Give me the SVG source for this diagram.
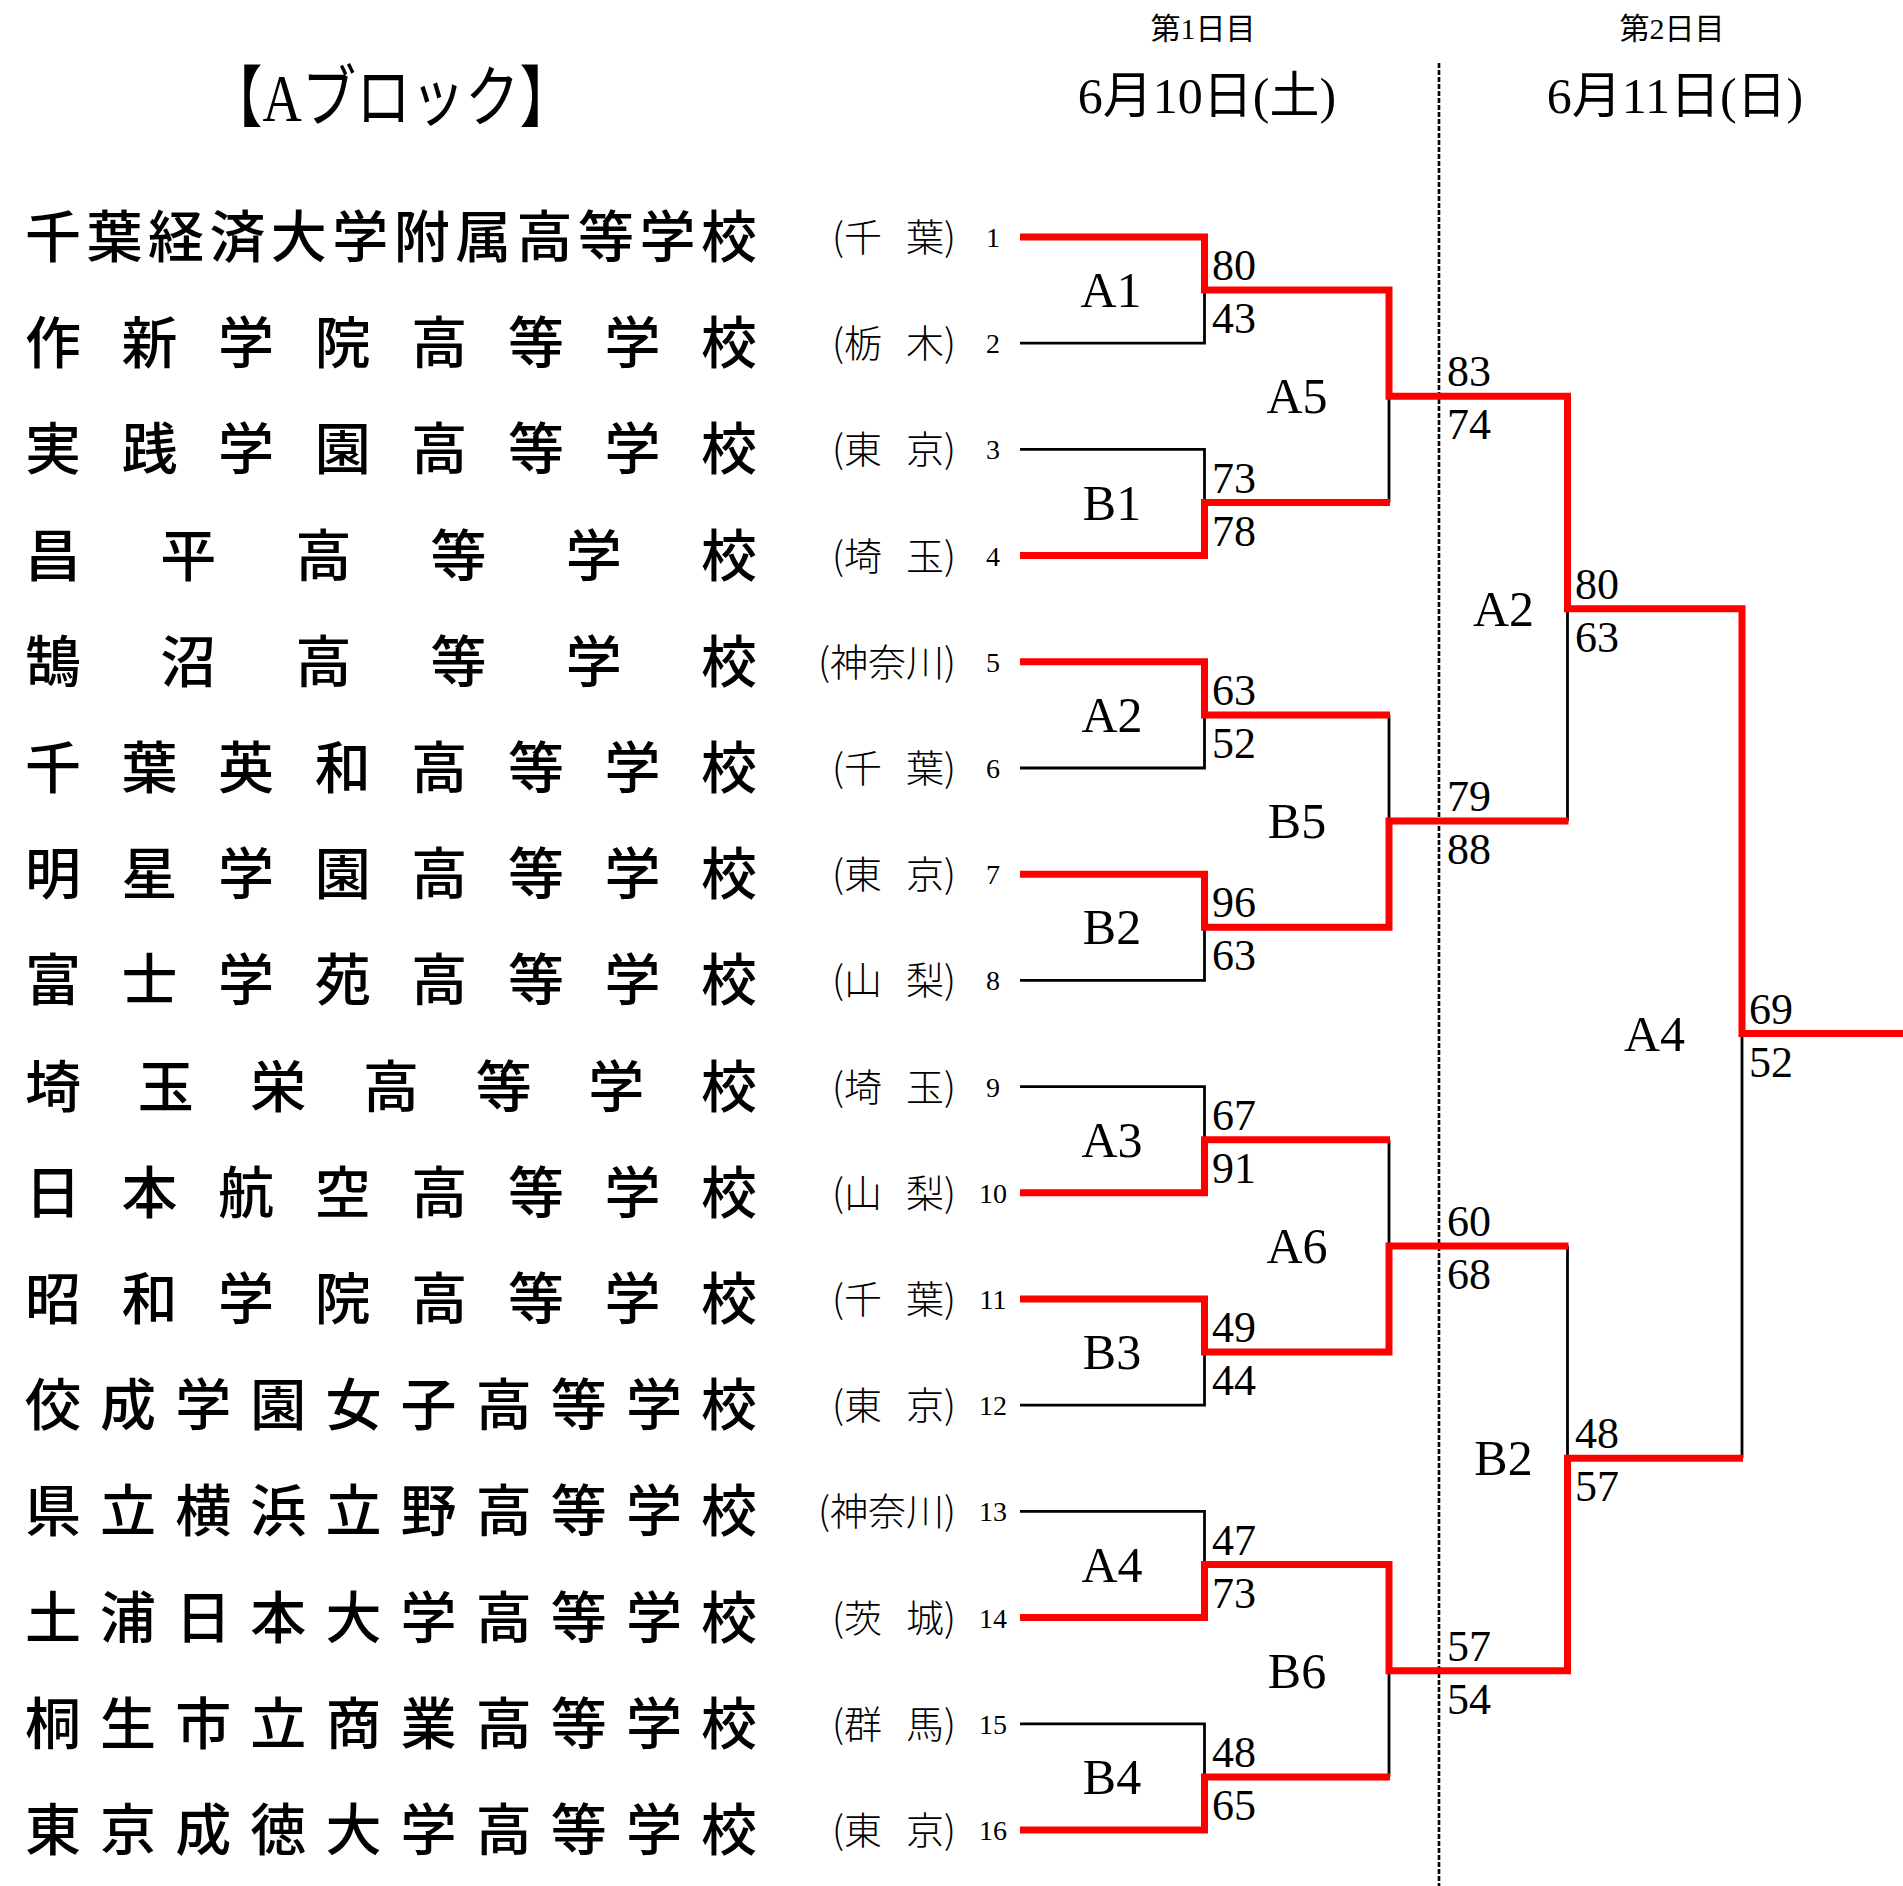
<svg xmlns="http://www.w3.org/2000/svg" width="1903" height="1886" viewBox="0 0 1903 1886">
<style>
.bg{fill:#ffffff}
.name{font-family:"Noto Sans CJK JP","Noto Sans CJK SC",sans-serif;font-size:56px;font-weight:500;fill:#000}
.pref{font-family:"Noto Sans CJK JP","Noto Sans CJK SC",sans-serif;font-size:38px;font-weight:300;fill:#000;text-anchor:end}
.seed{font-family:"Liberation Serif",serif;font-size:28px;fill:#000;text-anchor:middle}
.score{font-family:"Liberation Serif",serif;font-size:44px;fill:#000}
.mlabel{font-family:"Liberation Serif",serif;font-size:50px;fill:#000;text-anchor:middle}
.day{font-family:"Liberation Serif","Noto Sans CJK JP",serif;font-size:30px;fill:#000;text-anchor:middle}
.date{font-family:"Liberation Serif","Noto Sans CJK JP",serif;font-size:50px;fill:#000;text-anchor:middle}
.title{font-family:"Liberation Serif","Noto Sans CJK JP",serif;font-size:67px;fill:#000}
.lose{fill:none;stroke:#000;stroke-width:2.8;stroke-linejoin:miter}
.win{fill:none;stroke:#ff0000;stroke-width:7;stroke-linejoin:miter}
.divider{fill:none;stroke:#000;stroke-width:2.6;stroke-dasharray:5 2}
</style>
<rect class="bg" x="0" y="0" width="1903" height="1886"/>

<g id="header">
<text class="title" x="208" y="121" textLength="366" lengthAdjust="spacingAndGlyphs">【Aブロック】</text>
<text class="day" x="1203" y="39">第1日目</text>
<text class="date" x="1207" y="113">6月10日(土)</text>
<text class="day" x="1672" y="39">第2日目</text>
<text class="date" x="1675" y="113">6月11日(日)</text>
<line class="divider" x1="1439" y1="63" x2="1439" y2="1886"/>
</g>

<g id="team-01"><text class="name" y="257" x="25 86.45 147.9 209.4 270.8 332.3 393.7 455.2 516.6 578.1 639.5 701">千葉経済大学附属高等学校</text><text class="pref" x="956" y="251">(千<tspan dx="24">葉)</tspan></text><text class="seed" x="993" y="247">1</text></g>
<g id="team-02"><text class="name" y="363.2" x="25 121.6 218.1 314.7 411.3 507.9 604.4 701">作新学院高等学校</text><text class="pref" x="956" y="357.2">(栃<tspan dx="24">木)</tspan></text><text class="seed" x="993" y="353.2">2</text></g>
<g id="team-03"><text class="name" y="469.4" x="25 121.6 218.1 314.7 411.3 507.9 604.4 701">実践学園高等学校</text><text class="pref" x="956" y="463.4">(東<tspan dx="24">京)</tspan></text><text class="seed" x="993" y="459.4">3</text></g>
<g id="team-04"><text class="name" y="575.6" x="25 160.2 295.4 430.6 565.8 701">昌平高等学校</text><text class="pref" x="956" y="569.6">(埼<tspan dx="24">玉)</tspan></text><text class="seed" x="993" y="565.6">4</text></g>
<g id="team-05"><text class="name" y="681.8" x="25 160.2 295.4 430.6 565.8 701">鵠沼高等学校</text><text class="pref" x="956" y="675.8">(神奈川)</text><text class="seed" x="993" y="671.8">5</text></g>
<g id="team-06"><text class="name" y="788" x="25 121.6 218.1 314.7 411.3 507.9 604.4 701">千葉英和高等学校</text><text class="pref" x="956" y="782">(千<tspan dx="24">葉)</tspan></text><text class="seed" x="993" y="778">6</text></g>
<g id="team-07"><text class="name" y="894.2" x="25 121.6 218.1 314.7 411.3 507.9 604.4 701">明星学園高等学校</text><text class="pref" x="956" y="888.2">(東<tspan dx="24">京)</tspan></text><text class="seed" x="993" y="884.2">7</text></g>
<g id="team-08"><text class="name" y="1000.4" x="25 121.6 218.1 314.7 411.3 507.9 604.4 701">富士学苑高等学校</text><text class="pref" x="956" y="994.4">(山<tspan dx="24">梨)</tspan></text><text class="seed" x="993" y="990.4">8</text></g>
<g id="team-09"><text class="name" y="1106.6" x="25 137.7 250.3 363 475.7 588.3 701">埼玉栄高等学校</text><text class="pref" x="956" y="1100.6">(埼<tspan dx="24">玉)</tspan></text><text class="seed" x="993" y="1096.6">9</text></g>
<g id="team-10"><text class="name" y="1212.8" x="25 121.6 218.1 314.7 411.3 507.9 604.4 701">日本航空高等学校</text><text class="pref" x="956" y="1206.8">(山<tspan dx="24">梨)</tspan></text><text class="seed" x="993" y="1202.8">10</text></g>
<g id="team-11"><text class="name" y="1319" x="25 121.6 218.1 314.7 411.3 507.9 604.4 701">昭和学院高等学校</text><text class="pref" x="956" y="1313">(千<tspan dx="24">葉)</tspan></text><text class="seed" x="993" y="1309">11</text></g>
<g id="team-12"><text class="name" y="1425.2" x="25 100.1 175.2 250.3 325.4 400.6 475.7 550.8 625.9 701">佼成学園女子高等学校</text><text class="pref" x="956" y="1419.2">(東<tspan dx="24">京)</tspan></text><text class="seed" x="993" y="1415.2">12</text></g>
<g id="team-13"><text class="name" y="1531.4" x="25 100.1 175.2 250.3 325.4 400.6 475.7 550.8 625.9 701">県立横浜立野高等学校</text><text class="pref" x="956" y="1525.4">(神奈川)</text><text class="seed" x="993" y="1521.4">13</text></g>
<g id="team-14"><text class="name" y="1637.6" x="25 100.1 175.2 250.3 325.4 400.6 475.7 550.8 625.9 701">土浦日本大学高等学校</text><text class="pref" x="956" y="1631.6">(茨<tspan dx="24">城)</tspan></text><text class="seed" x="993" y="1627.6">14</text></g>
<g id="team-15"><text class="name" y="1743.8" x="25 100.1 175.2 250.3 325.4 400.6 475.7 550.8 625.9 701">桐生市立商業高等学校</text><text class="pref" x="956" y="1737.8">(群<tspan dx="24">馬)</tspan></text><text class="seed" x="993" y="1733.8">15</text></g>
<g id="team-16"><text class="name" y="1850" x="25 100.1 175.2 250.3 325.4 400.6 475.7 550.8 625.9 701">東京成徳大学高等学校</text><text class="pref" x="956" y="1844">(東<tspan dx="24">京)</tspan></text><text class="seed" x="993" y="1840">16</text></g>

<g id="connectors">
<path class="lose" d="M1020,343.2 H1204.5 V290.1"/>
<path class="lose" d="M1020,449.4 H1204.5 V502.5"/>
<path class="lose" d="M1020,768 H1204.5 V714.9"/>
<path class="lose" d="M1020,980.4 H1204.5 V927.3"/>
<path class="lose" d="M1020,1086.6 H1204.5 V1139.7"/>
<path class="lose" d="M1020,1405.2 H1204.5 V1352.1"/>
<path class="lose" d="M1020,1511.4 H1204.5 V1564.5"/>
<path class="lose" d="M1020,1723.8 H1204.5 V1776.9"/>
<path class="lose" d="M1389,502.5 V396.3"/>
<path class="lose" d="M1389,714.9 V821.1"/>
<path class="lose" d="M1389,1139.7 V1245.9"/>
<path class="lose" d="M1389,1776.9 V1670.7"/>
<path class="lose" d="M1567.5,821.1 V608.7"/>
<path class="lose" d="M1567.5,1245.9 V1458.3"/>
<path class="lose" d="M1742,1458.3 V1033.5"/>
<path class="win" d="M1020,237 H1204.5 V290.1 H1389 V396.3 H1567.5 V608.7 H1742 V1033.5 H1903"/>
<path class="win" d="M1020,555.6 H1204.5 V502.5 H1390"/>
<path class="win" d="M1020,661.8 H1204.5 V714.9 H1390"/>
<path class="win" d="M1020,874.2 H1204.5 V927.3 H1389 V821.1 H1568.5"/>
<path class="win" d="M1020,1192.8 H1204.5 V1139.7 H1390"/>
<path class="win" d="M1020,1299 H1204.5 V1352.1 H1389 V1245.9 H1568.5"/>
<path class="win" d="M1020,1617.6 H1204.5 V1564.5 H1389 V1670.7 H1567.5 V1458.3 H1743"/>
<path class="win" d="M1020,1830 H1204.5 V1776.9 H1390"/>
</g>

<g id="match-r1-A1"><text class="mlabel" x="1111" y="307.1">A1</text><text class="score" x="1212" y="280.1">80</text><text class="score" x="1212" y="333.1">43</text></g>
<g id="match-r1-B1"><text class="mlabel" x="1112" y="519.5">B1</text><text class="score" x="1212" y="492.5">73</text><text class="score" x="1212" y="545.5">78</text></g>
<g id="match-r1-A2"><text class="mlabel" x="1112" y="731.9">A2</text><text class="score" x="1212" y="704.9">63</text><text class="score" x="1212" y="757.9">52</text></g>
<g id="match-r1-B2"><text class="mlabel" x="1112" y="944.3">B2</text><text class="score" x="1212" y="917.3">96</text><text class="score" x="1212" y="970.3">63</text></g>
<g id="match-r1-A3"><text class="mlabel" x="1112" y="1156.7">A3</text><text class="score" x="1212" y="1129.7">67</text><text class="score" x="1212" y="1182.7">91</text></g>
<g id="match-r1-B3"><text class="mlabel" x="1112" y="1369.1">B3</text><text class="score" x="1212" y="1342.1">49</text><text class="score" x="1212" y="1395.1">44</text></g>
<g id="match-r1-A4"><text class="mlabel" x="1112" y="1581.5">A4</text><text class="score" x="1212" y="1554.5">47</text><text class="score" x="1212" y="1607.5">73</text></g>
<g id="match-r1-B4"><text class="mlabel" x="1112" y="1793.9">B4</text><text class="score" x="1212" y="1766.9">48</text><text class="score" x="1212" y="1819.9">65</text></g>

<g id="match-r2-A5"><text class="mlabel" x="1297" y="413.3">A5</text><text class="score" x="1447" y="386.3">83</text><text class="score" x="1447" y="439.3">74</text></g>
<g id="match-r2-B5"><text class="mlabel" x="1297" y="838.1">B5</text><text class="score" x="1447" y="811.1">79</text><text class="score" x="1447" y="864.1">88</text></g>
<g id="match-r2-A6"><text class="mlabel" x="1297" y="1262.9">A6</text><text class="score" x="1447" y="1235.9">60</text><text class="score" x="1447" y="1288.9">68</text></g>
<g id="match-r2-B6"><text class="mlabel" x="1297" y="1687.7">B6</text><text class="score" x="1447" y="1660.7">57</text><text class="score" x="1447" y="1713.7">54</text></g>

<g id="match-r3-A2"><text class="mlabel" x="1503.5" y="625.7">A2</text><text class="score" x="1575" y="598.7">80</text><text class="score" x="1575" y="651.7">63</text></g>
<g id="match-r3-B2"><text class="mlabel" x="1503.5" y="1475.3">B2</text><text class="score" x="1575" y="1448.3">48</text><text class="score" x="1575" y="1501.3">57</text></g>

<g id="match-r4-A4"><text class="mlabel" x="1654.5" y="1050.5">A4</text><text class="score" x="1749" y="1023.5">69</text><text class="score" x="1749" y="1076.5">52</text></g>
</svg>
